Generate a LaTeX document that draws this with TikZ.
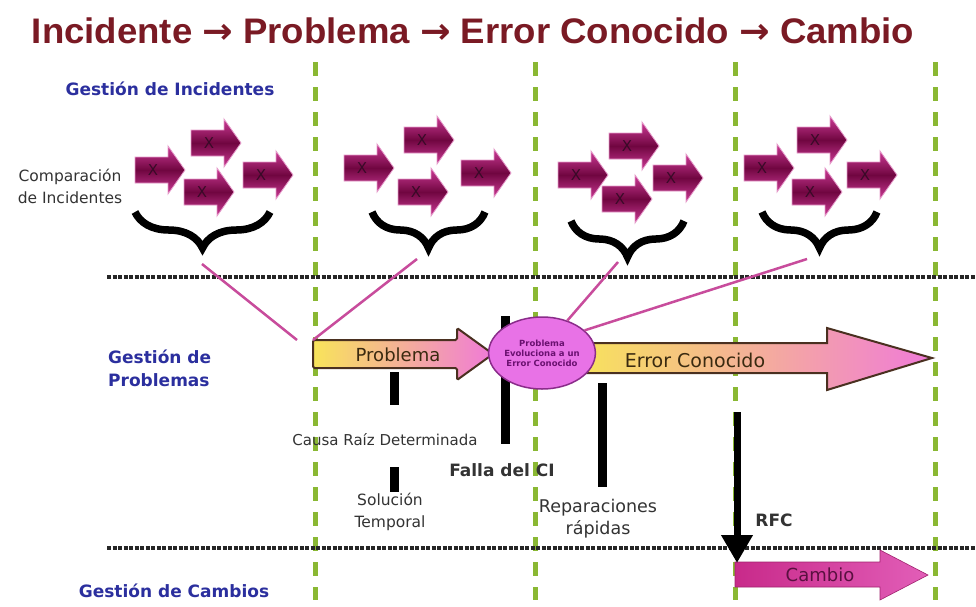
\documentclass[tikz,border=0pt]{standalone}
\usepackage{fontspec}
\setmainfont{DejaVu Sans}
\newfontfamily\titlefont{Liberation Sans}
\newfontfamily\arrowfont{DejaVu Sans}
\usetikzlibrary{decorations.pathreplacing,arrows.meta,shapes.geometric}
\definecolor{titlered}{HTML}{7A1A24}
\definecolor{gblue}{HTML}{2B2F9E}
\definecolor{ggreen}{HTML}{8AB833}
\definecolor{pinkline}{HTML}{C84C9C}
\definecolor{xdark}{HTML}{700640}
\definecolor{xlight}{HTML}{CC3A96}
\definecolor{xtext}{HTML}{3A0A28}
\definecolor{pyellow}{HTML}{F8E45A}
\definecolor{ppink}{HTML}{F07AD8}
\definecolor{pedge}{HTML}{4A3020}
\definecolor{ptext}{HTML}{3A2A10}
\definecolor{ellfill}{HTML}{E872E6}
\definecolor{elldraw}{HTML}{8A2C8A}
\definecolor{elltext}{HTML}{6A1070}
\definecolor{cleft}{HTML}{C82A8A}
\definecolor{cright}{HTML}{E25EB8}
\definecolor{ctext}{HTML}{5A1040}
\definecolor{greytext}{HTML}{333333}
\newcommand\xarr[3]{%
  \path[xarrowfill] (#2,#3-13) -- ++(33,0) -- ++(0,-11) -- (#2+50,#3) -- (#2+33,#3+24) -- ++(0,-11) -- (#2,#3+13) -- cycle;
  \node[xlabel] (#1) at (#2+18,#3) {X};}
\newcommand\tarr{{\arrowfont\bfseries →}}
\tikzset{
  xarrowfill/.style={top color=xlight, bottom color=xlight, middle color=xdark, draw=xlight!50!white, line width=0.8pt},
  xlabel/.style={font=\fontsize{15}{15}\selectfont, text=xtext, inner sep=0pt},
  greendash/.style={draw=ggreen, line width=5pt, dash pattern=on 14pt off 11pt},
  dotline/.style={draw=black!85, line width=3.5pt, dash pattern=on 4pt off 1.5pt},
  bracestyle/.style={draw=black, line width=7.5pt, decorate, decoration={brace, amplitude=36pt, aspect=0.5}},
  pinkconn/.style={draw=pinkline, line width=2.5pt},
  blacbar/.style={draw=black, line width=9pt},
  bluelabel/.style={font=\bfseries\fontsize{17}{23}\selectfont, text=gblue, inner sep=0pt},
  greylabel/.style={font=\fontsize{15.5}{22}\selectfont, text=greytext, inner sep=0pt, align=center},
}
\begin{document}
\begin{tikzpicture}[x=1pt,y=-1pt]
\useasboundingbox (0,0) rectangle (976,606);
\fill[white] (0,0) rectangle (976,606);

% title
\node[font=\titlefont\bfseries\fontsize{35.5}{40}\selectfont, text=titlered, xscale=1.03, inner sep=0pt] (title) at (473,31) {Incidente \tarr{} Problema \tarr{} Error Conocido \tarr{} Cambio};

% green dashed separators
\foreach \i/\x in {1/315,2/535,3/735,4/935}{
  \coordinate (g\i t) at (\x,62);
  \coordinate (g\i b) at (\x,600);
  \draw[greendash] (g\i t) -- (g\i b);
}

% dotted horizontal lines
\coordinate (h1s) at (107,277); \coordinate (h1e) at (976,277);
\coordinate (h2s) at (107,548); \coordinate (h2e) at (976,548);
\draw[dotline] (h1s) -- (h1e);
\draw[dotline] (h2s) -- (h2e);

% left labels
\node[bluelabel] (gi) at (170,89) {Gestión de Incidentes};
\node[greylabel, font=\fontsize{15.5}{22}\selectfont] (comp) at (70,186) {Comparación\\de Incidentes};
\node[bluelabel, align=left, anchor=west] (gp) at (108,368) {Gestión de\\Problemas};
\node[bluelabel] (gc) at (174,591) {Gestión de Cambios};

% incident arrows
\xarr{a1l}{135}{170} \xarr{a1t}{191}{143} \xarr{a1b}{184}{192} \xarr{a1r}{243}{175}
\xarr{a2l}{344}{168} \xarr{a2t}{404}{140} \xarr{a2b}{398}{192} \xarr{a2r}{461}{173}
\xarr{a3l}{558}{175} \xarr{a3t}{609}{146} \xarr{a3b}{602}{199} \xarr{a3r}{653}{178}
\xarr{a4l}{744}{168} \xarr{a4t}{797}{140} \xarr{a4b}{792}{192} \xarr{a4r}{847}{175}

% braces
\coordinate (b1r) at (270,212); \coordinate (b1l) at (135,212);
\coordinate (b2r) at (485,212); \coordinate (b2l) at (372,212);
\coordinate (b3r) at (684,221); \coordinate (b3l) at (571,221);
\coordinate (b4r) at (877,212); \coordinate (b4l) at (762,212);
\foreach \i in {1,2,3,4}{ \draw[bracestyle] (b\i r) -- (b\i l); }

% black bars
\coordinate (k1t) at (394,372); \coordinate (k1b) at (394,405);
\coordinate (k2t) at (394,467); \coordinate (k2b) at (394,492);
\coordinate (k3t) at (505,316); \coordinate (k3b) at (505,444);
\coordinate (k4t) at (602,383); \coordinate (k4b) at (602,487);
\foreach \i in {1,2,3,4}{ \draw[blacbar] (k\i t) -- (k\i b); }

% big arrows
\path[draw=pedge, line width=2pt, rounded corners=1.5pt, left color=pyellow, right color=ppink]
  (313,340) -- (457,340) -- (457,328) -- (493,354) -- (457,380) -- (457,368) -- (313,368) -- cycle;
\node[font=\fontsize{18}{18}\selectfont, text=ptext, inner sep=0pt] (probtxt) at (398,355) {Problema};

\path[draw=pedge, line width=2pt, left color=pyellow, right color=ppink]
  (575,343) -- (827,343) -- (827,328) -- (932,358) -- (827,390) -- (827,373) -- (575,373) -- cycle;
\node[font=\fontsize{19}{19}\selectfont, text=ptext, inner sep=0pt] (errtxt) at (695,360) {Error Conocido};

\node[ellipse, minimum width=96pt, minimum height=72pt, fill=ellfill, draw=elldraw, line width=1.5pt, align=center, inner sep=0pt, text=elltext, font=\bfseries\fontsize{8.5}{10}\selectfont] (ell) at (542,353) {Problema\\Evoluciona a un\\Error Conocido};

% pink connectors
\coordinate (p1) at (202,264); \coordinate (q1) at (297,340);
\coordinate (p2) at (417,259); \coordinate (q2) at (313,340);
\coordinate (p3) at (618,262);
\coordinate (p4) at (807,259);
\draw[pinkconn] (p1) -- (q1);
\draw[pinkconn] (p2) -- (q2);
\draw[pinkconn] (p3) -- (ell.52);
\draw[pinkconn] (p4) -- (ell.28);

% texts under arrows
\node[greylabel, font=\fontsize{15}{15}\selectfont] (causa) at (385,440) {Causa Raíz Determinada};
\node[greylabel] (sol) at (390,512) {Solución\\Temporal};
\node[font=\bfseries\fontsize{17}{17}\selectfont, text=greytext, inner sep=0pt] (falla) at (502,470) {Falla del CI};
\node[greylabel, font=\fontsize{17.5}{22}\selectfont] (rep) at (598,519) {Reparaciones\\rápidas};
\node[font=\bfseries\fontsize{17}{17}\selectfont, text=greytext, inner sep=0pt] (rfc) at (774,520) {RFC};

% Cambio arrow
\path[left color=cleft, right color=cright, draw=cleft!80!black, line width=0.6pt]
  (735,562) -- (880,562) -- (880,550) -- (928,575) -- (880,600) -- (880,587) -- (735,587) -- cycle;
\node[font=\fontsize{18}{18}\selectfont, text=ctext, inner sep=0pt] (cambio) at (820,575) {Cambio};

% RFC arrow
\coordinate (rs) at (737,412); \coordinate (re) at (737,563);
\draw[line width=7pt, -{Triangle[width=30pt,length=28pt]}] (rs) -- (re);
\end{tikzpicture}
\end{document}
